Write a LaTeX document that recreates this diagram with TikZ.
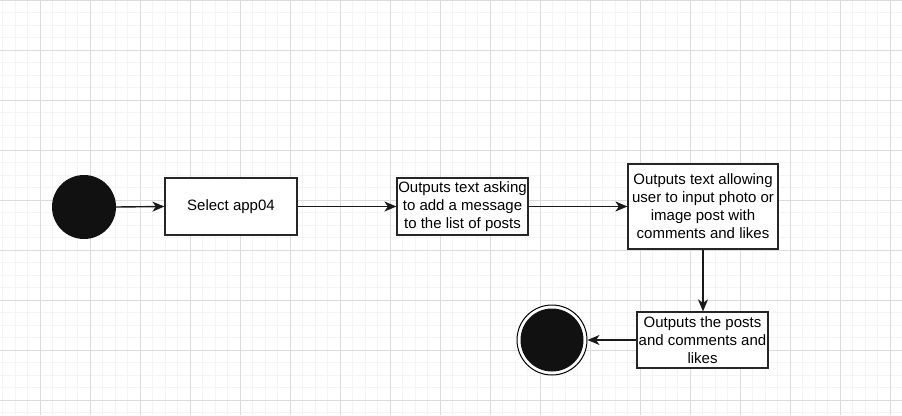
\documentclass[tikz,border=0pt]{standalone}
\usepackage{fontspec}
\setmainfont{Liberation Sans}
\usetikzlibrary{arrows.meta}
\definecolor{gridmajor}{RGB}{220,220,220}
\definecolor{gridminor}{RGB}{244,244,244}
\definecolor{nodefill}{RGB}{17,17,17}
\tikzset{
  box/.style={draw=black!85, line width=1.2pt, fill=white, align=center, inner sep=1pt,
    font=\fontsize{15}{18}\selectfont},
  arr/.style={draw=black!90, line width=1.4pt, -{Stealth[length=12pt,width=10pt,inset=3.5pt]}},
  dot/.style={circle, fill=nodefill, inner sep=0pt}
}
\begin{document}
\begin{tikzpicture}[x=1pt,y=-1pt]
\useasboundingbox (0,0) rectangle (902,415);
\fill[white] (0,0) rectangle (902,415);
% minor grid
\foreach \i in {0,...,72} {
  \draw[gridminor, line width=0.8pt] ({2.5+12.5*\i},0) -- ({2.5+12.5*\i},415);
}
\foreach \j in {0,...,33} {
  \draw[gridminor, line width=0.8pt] (0,{12.5*\j}) -- (902,{12.5*\j});
}
% major grid
\foreach \i in {0,...,17} {
  \draw[gridmajor, line width=0.8pt] ({40+50*\i},0) -- ({40+50*\i},415);
}
\foreach \j in {0,...,8} {
  \draw[gridmajor, line width=0.8pt] (0,{50*\j}) -- (902,{50*\j});
}

\node[dot, minimum size=64pt] (start) at (84,207) {};
\node[box, minimum width=132pt, minimum height=57pt] (b1) at (231,206.5) {Select app04};
\node[box, minimum width=131pt, minimum height=57pt] (b2) at (462.5,206.5) {Outputs text asking\\to add a message\\to the list of posts};
\node[box, minimum width=150pt, minimum height=85pt] (b3) at (703,206.5) {Outputs text allowing\\user to input photo or\\image post with\\comments and likes};
\node[box, minimum width=131pt, minimum height=56pt] (b4) at (702.5,340) {Outputs the posts\\and comments and\\likes};
\node[circle, draw=black, line width=1pt, fill=white, minimum size=70pt, inner sep=0pt] (endo) at (552,340) {};
\node[dot, minimum size=63pt] (endi) at (552,340) {};

\draw[arr] (start.east) -- (b1.west);
\draw[arr] (b1.east) -- (b2.west);
\draw[arr] (b2.east) -- (b3.west);
\draw[arr] (b3.south) -- (b3.south |- b4.north);
\draw[arr] (b4.west) -- (endo.east);
\end{tikzpicture}
\end{document}
